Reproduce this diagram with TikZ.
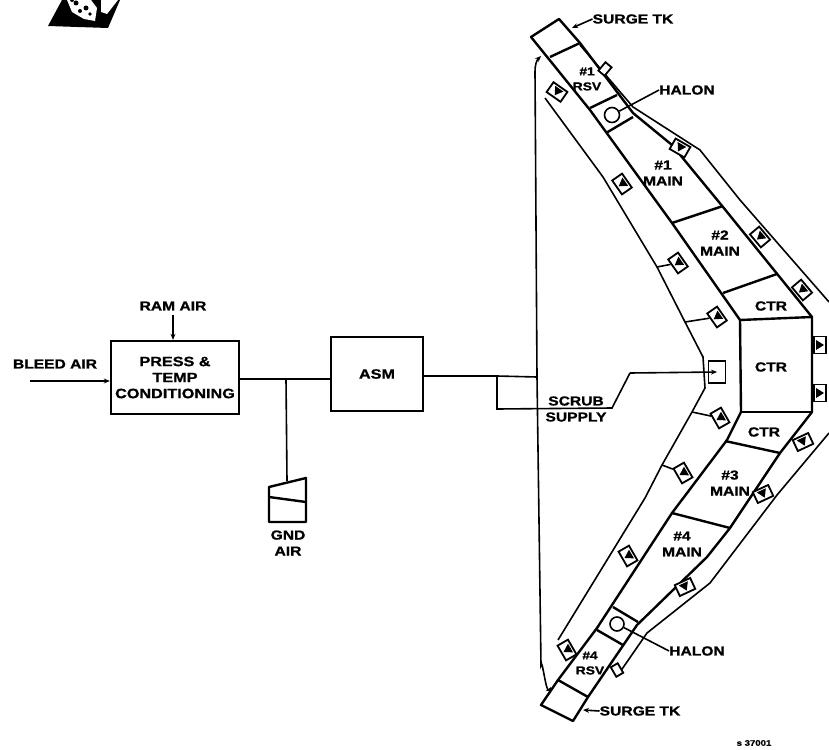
\documentclass[tikz,border=0pt]{standalone}
\usepackage{fontspec}
\newfontfamily\platefont[BoldFeatures={FakeStretch=1.2,FakeBold=1.2},FakeStretch=1.2]{Liberation Sans}
\usetikzlibrary{arrows.meta}
\tikzset{
	label text/.style={font=\platefont\bfseries\fontsize{13}{16}\selectfont, align=center, inner sep=0pt},
	block/.style={draw, line width=2.4pt, inner sep=0pt, font=\platefont\bfseries\fontsize{13.5}{16}\selectfont, align=center},
	pipe/.style={line width=1.6pt},
	wall/.style={line width=2.4pt, line join=round},
	flow/.style={pipe, -{Stealth[length=6pt,width=5pt]}},
	valve/.style={draw, line width=1.8pt, fill=white, minimum width=17pt, minimum height=12pt, inner sep=0pt},
}
\begin{document}
\begin{tikzpicture}[x=1pt, y=-1pt]
	\useasboundingbox (0,0) rectangle (829,749);
	% corner mark
	\fill (48,26) -- (62,0) -- (120,0) -- (108,28) -- cycle;
	\fill[white] (67,0) -- (91,0) -- (97,8) -- (95,21) -- (84,19) -- (72,12) -- cycle;
	\fill[white] (101,0) -- (118,0) -- (107,14) -- (101,12) -- cycle;
	\fill (76,3) circle (2.5pt) (86,8) circle (2.5pt) (80,11) circle (2pt) (90,14) circle (1.8pt) (72,0) circle (2pt);
	% left blocks
	\node[block, minimum width=128pt, minimum height=73pt] (cond) at (175,377.5) {PRESS \&\\TEMP\\CONDITIONING};
	\node[block, minimum width=92pt, minimum height=74pt] (asm) at (377,374) {ASM};
	\node[label text] (bleed) at (55,364) {BLEED AIR};
	\node[label text] (ram) at (173,306) {RAM AIR};
	\node[label text] (gndair) at (288,543) {GND\\AIR};
	\coordinate (bleedin) at (30,381);
	\coordinate (ramin) at (173,315);
	\coordinate (tee) at (286,379);
	\coordinate (gndtop) at (287,481);
	\draw[flow] (bleedin) -- (cond.west |- bleedin);
	\draw[flow] (ramin) -- (ramin |- cond.north);
	\draw[pipe] (cond.east |- tee) -- (asm.west |- tee);
	\draw[pipe] (tee) -- (gndtop);
	% ground air unit
	\coordinate (gnda) at (269,487);
	\coordinate (gndb) at (306,478);
	\coordinate (gndc) at (306,522);
	\coordinate (gndd) at (269,522);
	\draw[wall] (gnda) -- (gndb) -- (gndc) -- (gndd) -- cycle;
	\draw[wall] (269,497) -- (306,502);
	% wing tanks
	\coordinate (sa) at (531,37);
	\coordinate (sb) at (559,19);
	\coordinate (ctra) at (740,320);
	\coordinate (ctrb) at (812,317);
	\coordinate (ctrc) at (812,412);
	\coordinate (ctrd) at (741,412);
	\coordinate (sc) at (541,705);
	\coordinate (sd) at (573,721);
	\draw[wall] (sa) -- (sb) -- (580,43) -- (633,113) -- (672,145) -- (723,207) -- (ctrb) -- (ctrc) -- (780,453) -- (730,528) -- (707,557) -- (637,625) -- (588,697) -- (sd) -- (sc) -- (558,680) -- (597,628) -- (672,513) -- (727,440) -- (ctrd) -- (ctra) -- (672,223) -- (590,110) -- cycle;
	\draw[wall] (ctra) -- (ctrb);
	\draw[wall] (ctrd) -- (ctrc);
	\draw[wall] (550,57) -- (580,43);
	\draw[wall] (590,108) -- (617,95);
	\draw[wall] (606,133) -- (633,117);
	\draw[wall] (672,223) -- (723,206);
	\draw[wall] (723,293) -- (777,274);
	\draw[wall] (725,441) -- (780,453);
	\draw[wall] (672,513) -- (730,528);
	\draw[wall] (613,607) -- (638,622);
	\draw[wall] (597,630) -- (623,645);
	\draw[wall] (558,680) -- (588,697);
	% vent lines
	\draw[pipe] (545,98) -- (603,177) -- (615,197) -- (657,267) -- (685,322) -- (703,357) -- (705,388) -- (692,412) -- (662,465) -- (645,498) -- (558,640);
	\draw[pipe] (580,45) -- (633,107) -- (700,150) -- (740,200) -- (829,302);
	\draw[pipe] (829,433) -- (777,495) -- (710,583) -- (647,633) -- (620,672);
	% valves
	\foreach \vname/\vpos/\vrot in {vupa/{557,92}/-35, vupb/{622,184}/-55, vupc/{678,263}/-55, vupd/{717,317}/-55, vloa/{720,418}/-60, vlob/{683,473}/-60, vloc/{628,556}/-60, vlod/{567,650}/-60, ra/{680,148}/-30, rb/{760,237}/-50, rc/{802,290}/-50, rd/{820,345}/90, re/{820,393}/90, rf/{803,442}/25, rg/{763,494}/25, rh/{685,587}/25}{
		\node[valve, rotate=\vrot] (\vname) at (\vpos) {};
		\fill[rotate around={\vrot:(\vpos)}] (\vname.center) ++(-5,-4) -- ++(10,0) -- ++(-5,8) -- cycle;
	}
	\node[valve, minimum width=17pt, minimum height=22pt] (vctr) at (717,372) {};
	\node[valve, minimum width=8pt, minimum height=11pt, rotate=-40] (vda) at (605,69) {};
	\node[valve, minimum width=8pt, minimum height=11pt, rotate=30] (vdb) at (617,670) {};
	% stubs to the valves
	\draw[pipe] (657,267) -- (vupc);
	\draw[pipe] (685,322) -- (vupd);
	\draw[pipe] (692,412) -- (vloa);
	\draw[pipe] (662,465) -- (vlob);
	% supply lines
	\coordinate (asmout) at (424,376);
	\coordinate (split) at (497,376);
	\coordinate (scruba) at (497,409);
	\coordinate (scrubb) at (612,408);
	\coordinate (scrubc) at (630,373);
	\coordinate (mainjoin) at (537,377);
	\coordinate (ventup) at (541,56);
	\coordinate (ventdown) at (551,687);
	\draw[pipe] (asmout) -- (split) -- (mainjoin);
	\draw[pipe] (split) -- (scruba) -- (scrubb) -- (scrubc);
	\draw[flow] (scrubc) -- (vctr.center);
	\draw[flow] (mainjoin) -- (535,72) to[out=90, in=225] (ventup);
	\draw[flow] (mainjoin) -- (541,665) to[out=85, in=240] (ventdown);
	% halon bottles
	\node[draw, circle, line width=1.6pt, minimum size=15pt, inner sep=0pt] (halona) at (612,115) {};
	\node[draw, circle, line width=1.6pt, minimum size=14pt, inner sep=0pt] (halonb) at (617,624) {};
	\node[label text] (halontop) at (687,90) {HALON};
	\node[label text] (halonlow) at (697,651) {HALON};
	\draw[pipe] (halona) -- (halontop.west);
	\draw[pipe] (halonb) -- (halonlow.west);
	% surge tanks
	\node[label text] (surgetop) at (633,19) {SURGE TK};
	\node[label text] (surgelow) at (640,711) {SURGE TK};
	\draw[flow] (surgetop.west) -- (572,28);
	\draw[flow] (surgelow.west) -- (583,710);
	% tank labels
	\node[label text, font=\platefont\bfseries\fontsize{11.5}{15}\selectfont] (rsva) at (587,79) {\#1\\RSV};
	\node[label text] (maina) at (663,173) {\#1\\MAIN};
	\node[label text] (mainb) at (720,243) {\#2\\MAIN};
	\node[label text] (ctrtop) at (771,306) {CTR};
	\node[label text] (ctrmid) at (771,367) {CTR};
	\node[label text] (ctrlow) at (764,432) {CTR};
	\node[label text] (mainc) at (730,483) {\#3\\MAIN};
	\node[label text] (maind) at (682,544) {\#4\\MAIN};
	\node[label text, font=\platefont\bfseries\fontsize{11.5}{15}\selectfont] (rsvb) at (590,663) {\#4\\RSV};
	\node[label text] (scrub) at (576,409) {SCRUB\\SUPPLY};
	\node[label text, font=\platefont\bfseries\fontsize{8}{10}\selectfont] (platenum) at (754,743) {s 37001};
\end{tikzpicture}
\end{document}
